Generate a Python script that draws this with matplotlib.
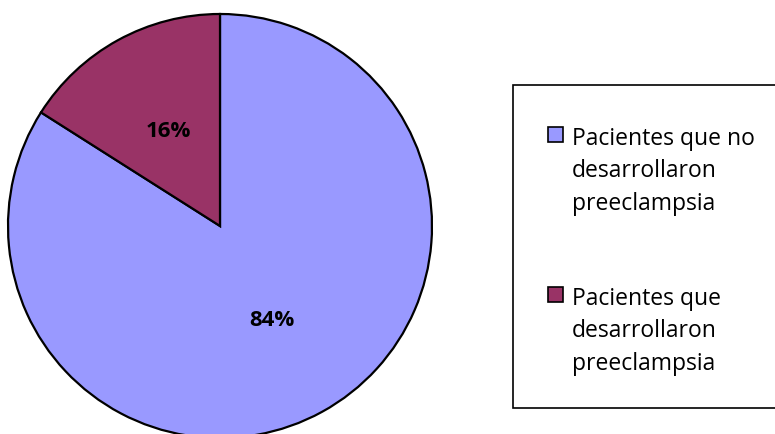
import matplotlib.pyplot as plt
from matplotlib.patches import Rectangle

# share of patients per group
Labels = ['Pacientes que no\ndesarrollaron\npreeclampsia',
          'Pacientes que\ndesarrollaron\npreeclampsia']
Values = [84, 16]
Colors = ['#9999FF', '#993366']

W, H = 775, 434
fig = plt.figure(figsize=(W / 100, H / 100), dpi=100)

# pie axes: centre at (220, 226) px from top-left, radius 212 px
Cx, Cy, R = 220, 226, 212
ax = fig.add_axes([(Cx - R) / W, (H - Cy - R) / H, 2 * R / W, 2 * R / H])
Wedges, Texts, AutoTexts = ax.pie(
    Values, colors=Colors, startangle=90, counterclock=False,
    autopct='%1.0f%%', pctdistance=0.51,
    wedgeprops=dict(edgecolor='black', linewidth=1.6))
for T in AutoTexts:
    T.set_fontfamily('Open Sans')
    T.set_fontweight('bold')
    T.set_fontsize(16)
    T.set_color('black')
ax.set_xlim(-1, 1)
ax.set_ylim(-1, 1)
ax.set_aspect('equal')
ax.axis('off')

# legend box, running off the right edge
fig.patches.append(Rectangle((513 / W, 1 - 408 / H), 300 / W, 323 / H,
                             transform=fig.transFigure, facecolor='white',
                             edgecolor='black', linewidth=1.2))
BoxTops = [127, 287]
for Lab, Col, Top in zip(Labels, Colors, BoxTops):
    fig.patches.append(Rectangle((548 / W, 1 - (Top + 15) / H), 15 / W, 15 / H,
                                 transform=fig.transFigure, facecolor=Col,
                                 edgecolor='black', linewidth=1.2))
    fig.text(572 / W, 1 - Top / H, Lab, ha='left', va='top',
             fontsize=16.5, family='Open Sans', linespacing=1.47)

fig.savefig('out.png', dpi=100)
